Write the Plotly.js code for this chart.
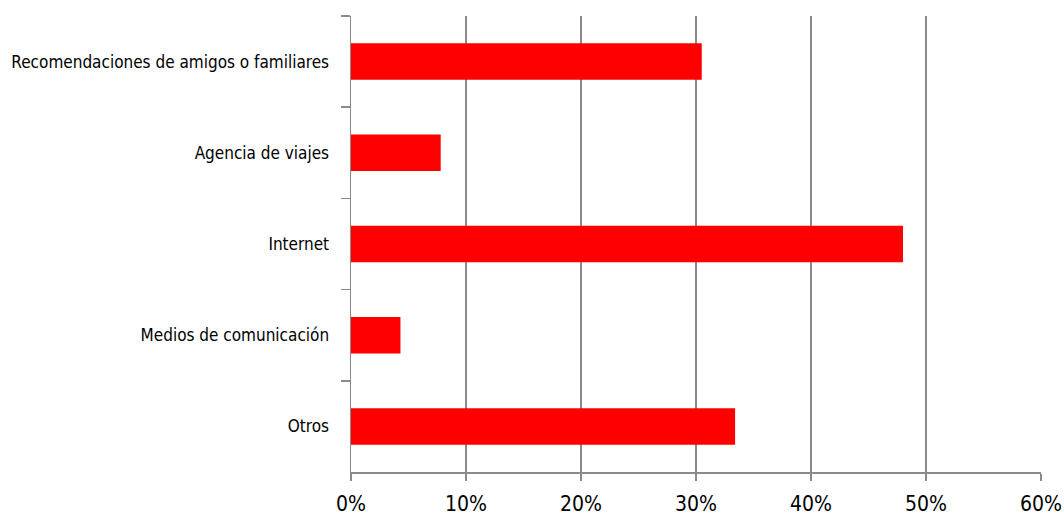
<!DOCTYPE html>
<html>
<head>
<meta charset="utf-8">
<script src="https://cdn.plot.ly/plotly-3.0.1.min.js"></script>
<style>
html,body{margin:0;padding:0;background:#fff;}
#chart{width:1064px;height:517px;}
#chart .ytick text, #chart .xtick text { font-stretch: condensed !important; }
</style>
</head>
<body>
<div id="chart"></div>
<script>
const categories = ["Recomendaciones de amigos o familiares", "Agencia de viajes", "Internet", "Medios de comunicación", "Otros"];
const values = [0.305, 0.078, 0.480, 0.043, 0.334];
const xTickValues = [0, 0.1, 0.2, 0.3, 0.4, 0.5, 0.6];
const xTickLabels = ["0%", "10%", "20%", "30%", "40%", "50%", "60%"];

const fontFamily = '"DejaVu Sans", sans-serif';
const gray = '#8a8a8a';

Plotly.newPlot('chart', [{
  type: 'bar',
  orientation: 'h',
  x: values,
  y: categories,
  marker: {color: '#ff0000'},
  hoverinfo: 'skip'
}], {
  width: 1064, height: 517,
  margin: {l: 351, r: 23, t: 16, b: 45, pad: 0},
  paper_bgcolor: '#fff', plot_bgcolor: '#fff',
  bargap: 0.6,
  showlegend: false,
  font: {family: fontFamily, color: '#000', size: 17},
  xaxis: {
    range: [0, 0.6],
    tickvals: xTickValues,
    ticktext: xTickLabels,
    showgrid: true, gridcolor: gray, gridwidth: 1.5,
    zeroline: false,
    showline: true, linecolor: gray, linewidth: 1.5,
    ticks: 'outside', ticklen: 7, tickwidth: 1.5, tickcolor: gray,
    tickfont: {family: fontFamily, size: 21, color: '#000'},
    ticklabelstandoff: 5,
    ticklabeloverflow: 'allow',
    fixedrange: true
  },
  yaxis: {
    type: 'category',
    categoryorder: 'array',
    categoryarray: categories,
    autorange: 'reversed',
    tickson: 'boundaries',
    showgrid: false, zeroline: false,
    showline: true, linecolor: gray, linewidth: 1.5,
    ticks: 'outside', ticklen: 9, tickwidth: 1.5, tickcolor: gray,
    tickfont: {family: fontFamily, size: 17, color: '#000'},
    ticklabelstandoff: 17,
    ticklabeloverflow: 'allow',
    fixedrange: true
  }
}, {displayModeBar: false, staticPlot: true});
</script>
</body>
</html>
